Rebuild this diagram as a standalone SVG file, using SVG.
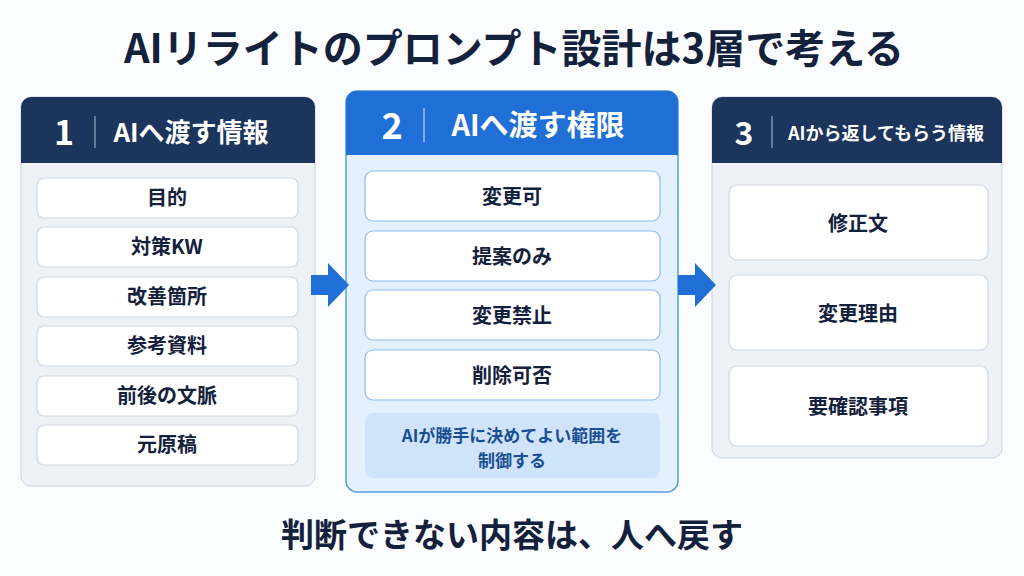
<svg xmlns="http://www.w3.org/2000/svg" width="1024" height="576" viewBox="0 0 1024 576">
<style>
text{font-family:"Noto Sans CJK JP","Noto Sans",sans-serif;font-weight:700;text-anchor:middle}
.item{fill:#fff;stroke:#cfd8e4;stroke-width:1.2}
.item2{fill:#fff;stroke:#8dbcef;stroke-width:1.2}
.it{font-size:20px;fill:#14213d}
.hd{fill:#fff}
</style>
<rect width="1024" height="576" fill="#fbfcfd"/>
<text x="514" y="63" font-size="40" font-weight="900" fill="#14213d">AIリライトのプロンプト設計は3層で考える</text>
<g id="panel1">
<rect x="21" y="97" width="294" height="389" rx="10" fill="#eef2f7" stroke="#c9d3df"/>
<path d="M21 163V107a10 10 0 0 1 10-10h274a10 10 0 0 1 10 10v56z" fill="#1b355c"/>
<text x="64" y="145" font-size="34" class="hd">1</text>
<line x1="95" y1="116" x2="95" y2="148" stroke="#7f93ae" stroke-width="1.5"/>
<text x="191" y="142" font-size="26" class="hd">AIへ渡す情報</text>
<rect class="item" x="37" y="178" width="261" height="40" rx="7"/><text class="it" x="167" y="205">目的</text>
<rect class="item" x="37" y="227" width="261" height="40" rx="7"/><text class="it" x="167" y="254">対策KW</text>
<rect class="item" x="37" y="277" width="261" height="40" rx="7"/><text class="it" x="167" y="304">改善箇所</text>
<rect class="item" x="37" y="326" width="261" height="40" rx="7"/><text class="it" x="167" y="353">参考資料</text>
<rect class="item" x="37" y="376" width="261" height="40" rx="7"/><text class="it" x="167" y="403">前後の文脈</text>
<rect class="item" x="37" y="425" width="261" height="40" rx="7"/><text class="it" x="167" y="452">元原稿</text>
</g>
<g id="panel2">
<rect x="346" y="91" width="332" height="401" rx="11" fill="#e3f0fd" stroke="#5b9be0" stroke-width="1.5"/>
<path d="M346 155V102a11 11 0 0 1 11-11h310a11 11 0 0 1 11 11v53z" fill="#1f6fd6"/>
<text x="392" y="139" font-size="36" class="hd">2</text>
<line x1="424" y1="108" x2="424" y2="142" stroke="#9cc2f0" stroke-width="1.5"/>
<text x="538" y="136" font-size="29" class="hd">AIへ渡す権限</text>
<rect class="item2" x="365" y="171" width="295" height="50" rx="8"/><text class="it" x="512" y="204" font-size="23">変更可</text>
<rect class="item2" x="365" y="231" width="295" height="50" rx="8"/><text class="it" x="512" y="264" font-size="23">提案のみ</text>
<rect class="item2" x="365" y="290" width="295" height="50" rx="8"/><text class="it" x="512" y="323" font-size="23">変更禁止</text>
<rect class="item2" x="365" y="350" width="295" height="50" rx="8"/><text class="it" x="512" y="383" font-size="23">削除可否</text>
<rect x="365" y="413" width="295" height="65" rx="8" fill="#cfe4fa"/>
<text x="512" y="442" font-size="17" fill="#1a4f94">AIが勝手に決めてよい範囲を</text>
<text x="512" y="467" font-size="17" fill="#1a4f94">制御する</text>
</g>
<g id="panel3">
<rect x="712" y="97" width="290" height="361" rx="10" fill="#eef2f7" stroke="#c9d3df"/>
<path d="M712 163V107a10 10 0 0 1 10-10h270a10 10 0 0 1 10 10v56z" fill="#1b355c"/>
<text x="744" y="145" font-size="32" class="hd">3</text>
<line x1="772" y1="116" x2="772" y2="148" stroke="#7f93ae" stroke-width="1.5"/>
<text x="886" y="140" font-size="18" class="hd">AIから返してもらう情報</text>
<rect class="item" x="729" y="185" width="259" height="75" rx="8"/><text class="it" x="858" y="231" font-size="24">修正文</text>
<rect class="item" x="729" y="275" width="259" height="75" rx="8"/><text class="it" x="858" y="321" font-size="24">変更理由</text>
<rect class="item" x="729" y="366" width="259" height="80" rx="8"/><text class="it" x="858" y="414" font-size="24">要確認事項</text>
</g>
<g id="connectors" fill="#1f6fd6">
<path d="M311 275h17v-12l21 22-21 22v-12h-17z"/>
<path d="M678 275h17v-12l21 22-21 22v-12h-17z"/>
</g>
<text x="512" y="547" font-size="33" font-weight="900" fill="#14213d">判断できない内容は、人へ戻す</text>
</svg>
